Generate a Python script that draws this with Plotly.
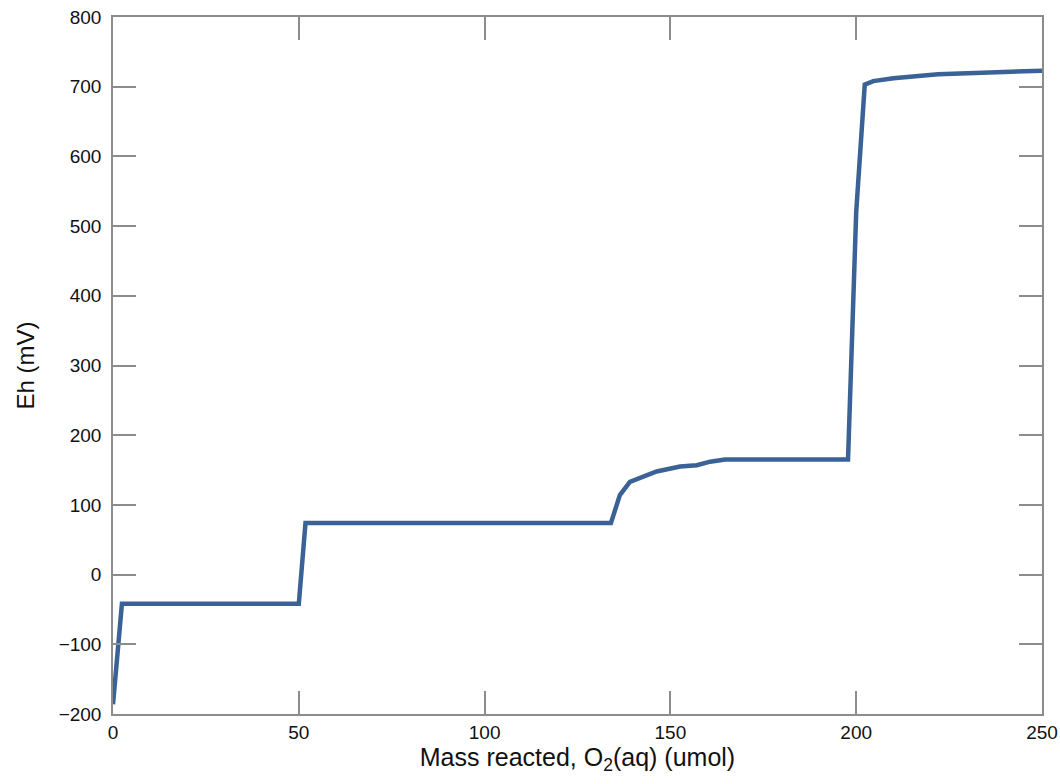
import plotly.graph_objects as go

mass_umol = [0, 2.4, 50.0, 51.8, 134.0, 136.4, 139.1, 141.8, 146.3, 152.6, 157.1, 160.7, 164.7,
             197.8, 200.0, 202.3, 204.6, 210.0, 215.0, 218.0, 222.0, 228.0, 233.0, 238.0, 245.0, 250.0]
eh_mV = [-186, -42, -42, 74, 74, 114, 133, 139, 148, 155, 157, 162, 165,
         165, 520, 703, 708, 712, 715, 717, 718, 719, 720, 721.5, 722, 723]

x_ticks = [0, 50, 100, 150, 200, 250]
y_ticks = [-200, -100, 0, 100, 200, 300, 400, 500, 600, 700, 800]

FONT = "Liberation Sans, Arial, sans-serif"

fig = go.Figure()
fig.add_trace(go.Scatter(x=mass_umol, y=eh_mV, mode="lines",
                         line=dict(color="#3a6296", width=4.5), showlegend=False))

axis_common = dict(showline=True, linecolor="#8c8c8c", linewidth=1.5, mirror="ticks",
                   ticks="inside", ticklen=23, tickcolor="#8c8c8c", tickwidth=1.5,
                   showgrid=False, zeroline=False, automargin=False,
                   ticklabeloverflow="allow",
                   tickfont=dict(family=FONT, size=19, color="#111111"))

fig.update_xaxes(range=[0, 250], tickvals=x_ticks,
                 title=dict(text="Mass reacted, O<sub>2</sub>(aq) (umol)",
                            font=dict(family=FONT, size=25, color="#111111"),
                            standoff=3),
                 **axis_common)
fig.update_yaxes(range=[-200, 800], tickvals=y_ticks, ticklabelstandoff=6,
                 title=dict(text="Eh (mV)",
                            font=dict(family=FONT, size=24, color="#111111"),
                            standoff=17),
                 **axis_common)

fig.update_layout(width=1060, height=784, plot_bgcolor="white", paper_bgcolor="white",
                  margin=dict(l=113, r=18, t=17, b=70))

# remove the browser's default 8px body margin so the figure fills the window exactly
fig.write_html("out.html", config={"displayModeBar": False},
               post_script="document.body.style.margin='0';document.body.style.overflow='hidden';")
